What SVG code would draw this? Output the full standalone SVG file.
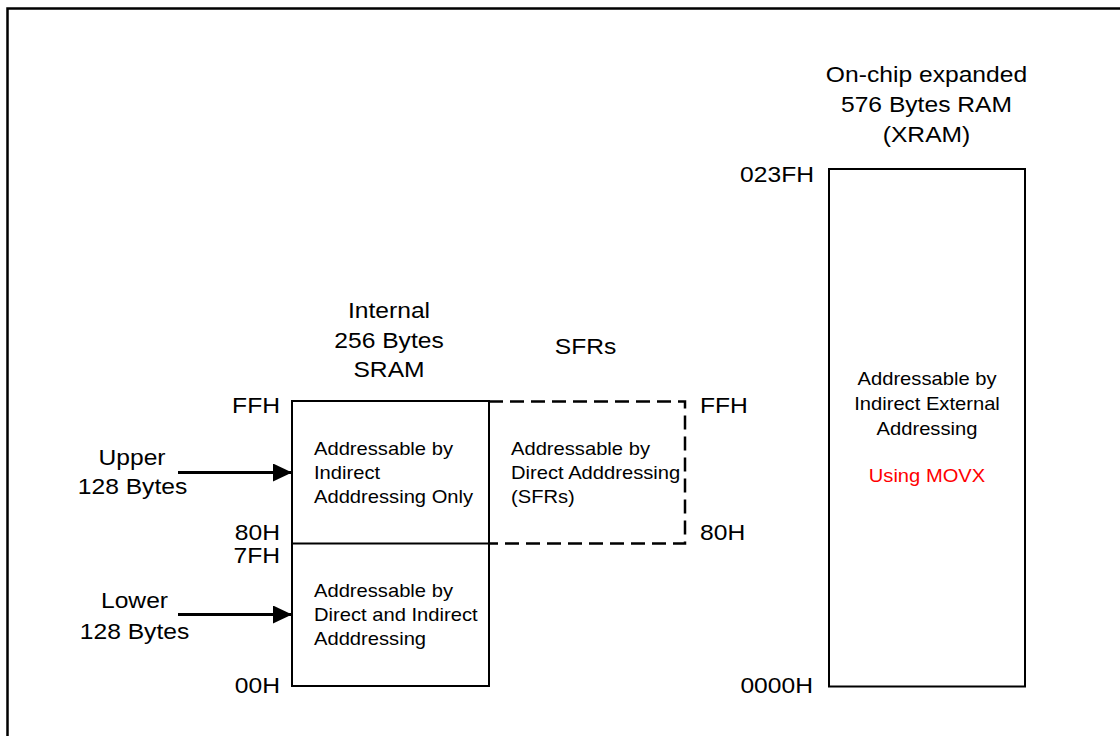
<svg xmlns="http://www.w3.org/2000/svg" width="1120" height="736" viewBox="0 0 1120 736">
<style>
.big{font-family:"Liberation Sans",Arial,sans-serif;font-size:22px;fill:#000}
.sm{font-family:"Liberation Sans",Arial,sans-serif;font-size:18px;fill:#000}
.red{fill:#ff0000}
.box{fill:none;stroke:#000;stroke-width:2}
.dash{fill:none;stroke:#000;stroke-width:2.5;stroke-dasharray:14 7}
.mid{text-anchor:middle}
.end{text-anchor:end}
.arr{stroke:#000;stroke-width:3;fill:none}
</style>
<defs>
<marker id="ah" markerWidth="19" markerHeight="18" refX="19" refY="9" orient="auto" markerUnits="userSpaceOnUse">
<path d="M0,0 L19,9 L0,18 Z" fill="#000"/>
</marker>
</defs>
<rect width="1120" height="736" fill="#fff"/>
<path d="M7.5,736 V8.5 H1120" fill="none" stroke="#000" stroke-width="2.5"/>

<g id="sram">
<text class="big mid" transform="translate(389 318) scale(1.12 1)">Internal</text>
<text class="big mid" transform="translate(389 348) scale(1.12 1)">256 Bytes</text>
<text class="big mid" transform="translate(389 377) scale(1.12 1)">SRAM</text>
<rect class="box" x="292" y="401" width="197" height="285"/>
<line class="box" x1="292" y1="543.5" x2="489" y2="543.5"/>
<text class="big end" transform="translate(280 413) scale(1.12 1)">FFH</text>
<text class="big end" transform="translate(280 540) scale(1.12 1)">80H</text>
<text class="big end" transform="translate(280 563) scale(1.12 1)">7FH</text>
<text class="big end" transform="translate(280 693) scale(1.12 1)">00H</text>
</g>

<g id="upper-block">
<text class="sm" transform="translate(314 455) scale(1.12 1)">Addressable by</text>
<text class="sm" transform="translate(314 479) scale(1.12 1)">Indirect</text>
<text class="sm" transform="translate(314 503) scale(1.12 1)">Adddressing Only</text>
</g>

<g id="lower-block">
<text class="sm" transform="translate(314 597) scale(1.12 1)">Addressable by</text>
<text class="sm" transform="translate(314 621) scale(1.12 1)">Direct and Indirect</text>
<text class="sm" transform="translate(314 645) scale(1.12 1)">Adddressing</text>
</g>

<g id="upper-label">
<text class="big mid" transform="translate(132 465) scale(1.12 1)">Upper</text>
<text class="big mid" transform="translate(132.5 494) scale(1.12 1)">128 Bytes</text>
</g>
<g id="lower-label">
<text class="big mid" transform="translate(134.5 608) scale(1.12 1)">Lower</text>
<text class="big mid" transform="translate(134.5 639) scale(1.12 1)">128 Bytes</text>
</g>

<g id="sfrs">
<text class="big mid" transform="translate(585.5 354) scale(1.12 1)">SFRs</text>
<path class="dash" d="M489,401.5 H685 V543.5 H489"/>
<text class="sm" transform="translate(511 455) scale(1.12 1)">Addressable by</text>
<text class="sm" transform="translate(511 479) scale(1.12 1)">Direct Adddressing</text>
<text class="sm" transform="translate(511 503) scale(1.12 1)">(SFRs)</text>
<text class="big" transform="translate(700 413) scale(1.12 1)">FFH</text>
<text class="big" transform="translate(700 540) scale(1.12 1)">80H</text>
</g>

<g id="xram">
<text class="big mid" transform="translate(926.5 82) scale(1.12 1)">On-chip expanded</text>
<text class="big mid" transform="translate(926.5 112) scale(1.12 1)">576 Bytes RAM</text>
<text class="big mid" transform="translate(926.5 142) scale(1.12 1)">(XRAM)</text>
<rect class="box" x="829" y="169" width="196" height="517.5"/>
<text class="big end" transform="translate(814 182) scale(1.12 1)">023FH</text>
<text class="big end" transform="translate(813 693) scale(1.12 1)">0000H</text>
<text class="sm mid" transform="translate(927 385) scale(1.12 1)">Addressable by</text>
<text class="sm mid" transform="translate(927 410) scale(1.12 1)">Indirect External</text>
<text class="sm mid" transform="translate(927 435) scale(1.12 1)">Addressing</text>
<text class="sm mid red" transform="translate(927 482) scale(1.12 1)">Using MOVX</text>
</g>

<g id="connectors">
<line class="arr" x1="178" y1="472.5" x2="292" y2="472.5" marker-end="url(#ah)"/>
<line class="arr" x1="178" y1="614.5" x2="292" y2="614.5" marker-end="url(#ah)"/>
</g>
</svg>
